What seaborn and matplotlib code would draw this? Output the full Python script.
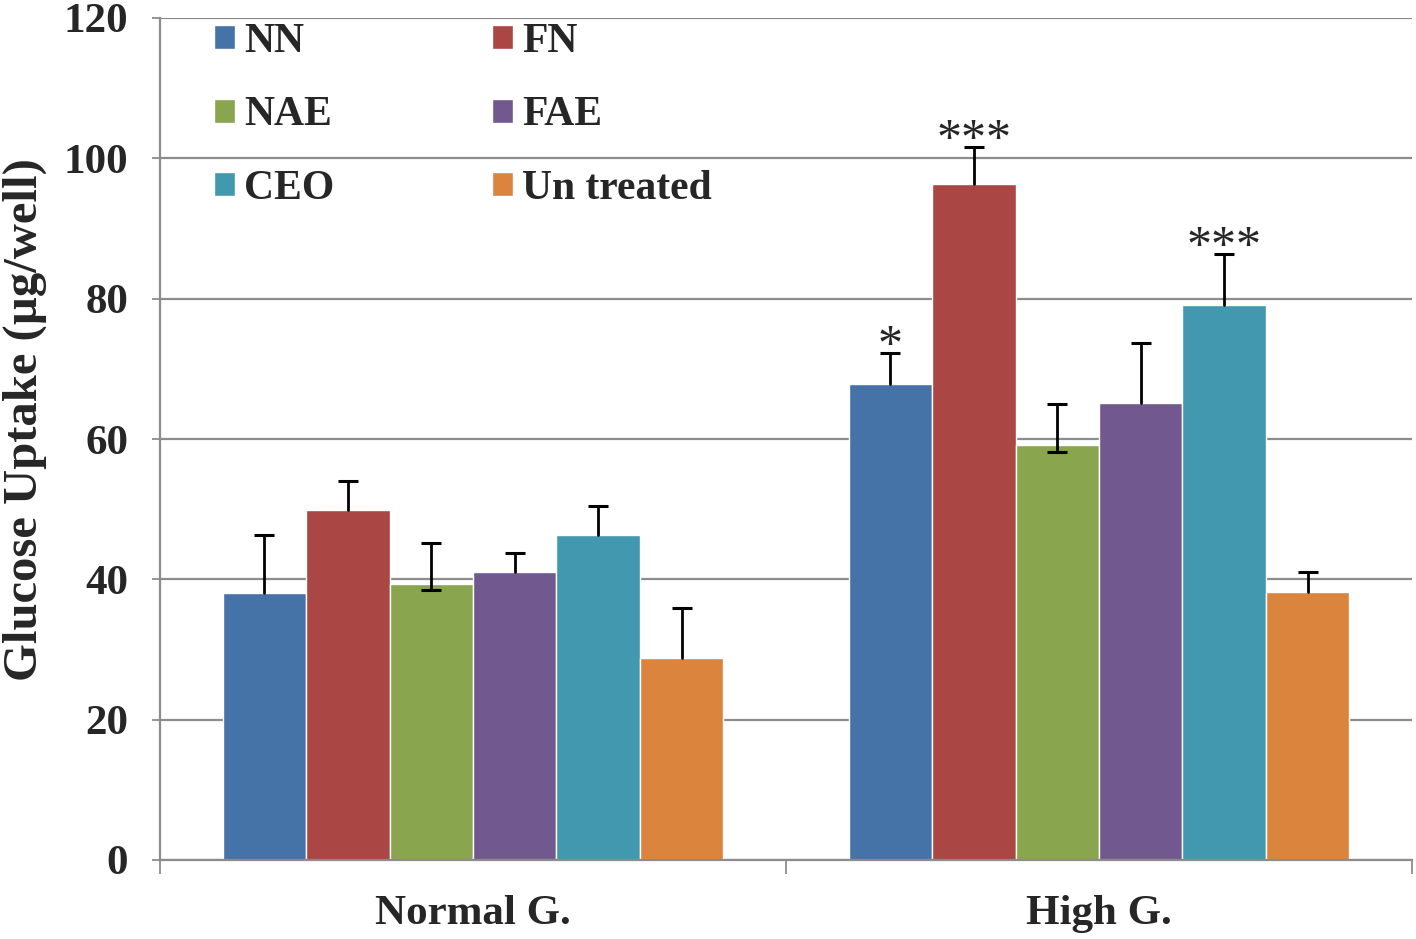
import numpy as np
import pandas as pd
import matplotlib
matplotlib.use("Agg")
import matplotlib.pyplot as plt
import seaborn as sns
from matplotlib.patches import Patch

# data
groups = ["Normal G.", "High G."]
treatments = ["NN", "FN", "NAE", "FAE", "CEO", "Un treated"]
colors = ["#4572A7", "#AA4643", "#89A54E", "#71588F", "#4198AF", "#DB843D"]

normal_vals = [38.0, 49.9, 39.3, 41.0, 46.3, 28.8]
high_vals = [67.8, 96.3, 59.1, 65.1, 79.1, 38.2]
normal_err_up = [8.3, 4.1, 5.9, 2.8, 4.1, 7.1]
high_err_up = [4.5, 5.3, 5.9, 8.6, 7.3, 2.8]
normal_err_low = [0, 0, 0.8, 0, 0, 0]
high_err_low = [0, 0, 1.0, 0, 0, 0]

stars = {("High G.", "NN"): "*", ("High G.", "FN"): "***", ("High G.", "CEO"): "***"}

df = pd.DataFrame({
    "group": np.repeat(groups, len(treatments)),
    "treatment": treatments * 2,
    "value": normal_vals + high_vals,
    "err_up": normal_err_up + high_err_up,
    "err_low": normal_err_low + high_err_low,
})

sns.set_style("white")
plt.rcParams["font.family"] = ["Liberation Serif", "DejaVu Serif"]
plt.rcParams["font.weight"] = "bold"

fig = plt.figure(figsize=(14.16, 9.39), dpi=100)
ax = fig.add_axes([160 / 1416, 1 - 860 / 939, 1252 / 1416, 842 / 939])

sns.barplot(data=df, x="group", y="value", hue="treatment", order=groups,
            hue_order=treatments, palette=colors, saturation=1, width=0.8,
            legend=False, ax=ax, zorder=2)

# error bars (caps only where the bar end is visible) and stars
for cont, t in zip(ax.containers, treatments):
    for bar, g in zip(cont, groups):
        row = df[(df.group == g) & (df.treatment == t)].iloc[0]
        xc = bar.get_x() + bar.get_width() / 2
        top = bar.get_height()
        lo, hi = top - row.err_low, top + row.err_up
        ax.plot([xc, xc], [lo, hi], color="black", lw=2, zorder=3)
        ax.plot([xc], [hi], marker="_", ms=15, mew=2.2, color="black", zorder=3)
        if row.err_low > 0:
            ax.plot([xc], [lo], marker="_", ms=15, mew=2.2, color="black", zorder=3)
        if (g, t) in stars:
            ax.text(xc, hi - 2.4, stars[(g, t)], ha="center", va="bottom",
                    fontsize=36, fontweight="normal", zorder=4)

ax.set_ylim(0, 120)
ax.set_xlim(-0.5, 1.5)
ax.set_yticks(np.arange(0, 121, 20))
ax.yaxis.grid(True, color="#8c8c8c", linewidth=1.6, zorder=0)
ax.set_axisbelow(True)

ax.set_xticks([-0.5, 0.5, 1.5])
ax.set_xticklabels([])
ax.set_xticks([0, 1], minor=True)
ax.set_xticklabels(groups, minor=True)
ax.tick_params(axis="x", which="major", direction="out", length=10, width=1.3,
               color="#8c8c8c", bottom=True)
ax.tick_params(axis="x", which="minor", length=0, pad=25, labelsize=31)
ax.tick_params(axis="y", direction="out", length=6, width=1.3, color="#8c8c8c",
               left=True, pad=17, labelsize=31)
for lab in ax.get_xticklabels(minor=True) + ax.get_yticklabels():
    lab.set_fontweight("bold")

ax.set_xlabel("")
ax.set_ylabel("Glucose Uptake (\u00b5g/well)", fontsize=35, fontweight="bold")
ax.yaxis.set_label_coords(-0.090, 0.523)

for side in ["top", "right"]:
    ax.spines[side].set_visible(False)
for side in ["left", "bottom"]:
    ax.spines[side].set_color("#8c8c8c")
    ax.spines[side].set_linewidth(1.6)

# legend in row-major order like the original (2 columns)
order = [0, 2, 4, 1, 3, 5]
handles = [Patch(facecolor=colors[i], label=treatments[i]) for i in order]
leg = ax.legend(handles=handles, ncol=2, loc="upper left",
                bbox_to_anchor=(0.043, 0.994), frameon=False, borderpad=0,
                borderaxespad=0, handlelength=0.5, handleheight=0.5,
                handletextpad=0.22, labelspacing=0.85, columnspacing=3.8,
                prop={"size": 30, "weight": "bold"})

fig.savefig("out.png", dpi=100)
